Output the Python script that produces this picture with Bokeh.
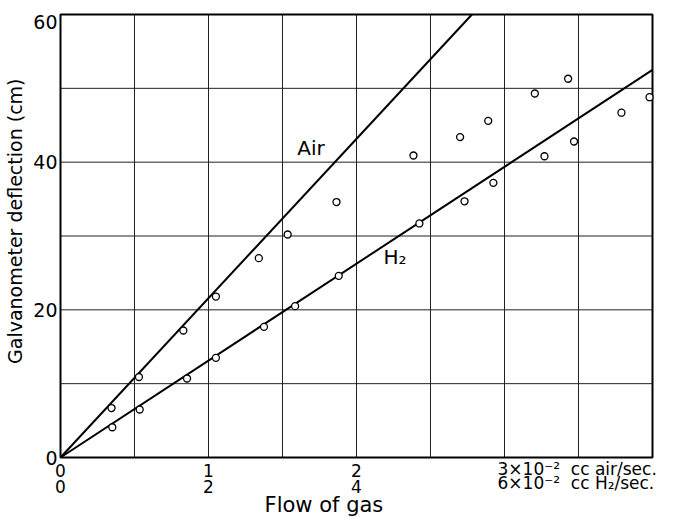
import math
from bokeh.plotting import figure
from bokeh.models import Range1d, Label
from bokeh.embed import file_html
from bokeh.resources import INLINE

# ---- data ----
# air: flow in 10^-2 cc air/sec (plotted on the H2 grid, 1 air unit = 2 grid units)
air_x = [0.345, 0.53, 0.83, 1.05, 1.34, 1.535, 1.865, 2.385, 2.70, 2.89, 3.205, 3.43]
air_y = [6.7, 10.9, 17.2, 21.8, 27.0, 30.2, 34.6, 40.9, 43.4, 45.6, 49.3, 51.3]
# H2: flow in 10^-2 cc H2/sec
h2_x = [0.70, 1.07, 1.71, 2.10, 2.75, 3.17, 3.76, 4.85, 5.46, 5.85, 6.54, 6.94, 7.58, 7.96]
h2_y = [4.1, 6.5, 10.7, 13.5, 17.7, 20.5, 24.6, 31.7, 34.7, 37.2, 40.8, 42.8, 46.7, 48.8]
# fitted lines
air_line_x = [0, 2.78]
air_line_y = [0, 60]
h2_line_x = [0, 8]
h2_line_y = [0, 52.5]

# axes / grid
x_max, y_max = 8, 60                       # H2 scale 0..8, deflection 0..60
x_grid = [1, 2, 3, 4, 5, 6, 7]
y_grid = [10, 20, 30, 40, 50]
air_ticks = [0, 1, 2]                      # upper tick row (air scale)
h2_ticks = [0, 2, 4]                       # lower tick row (H2 scale)
y_ticks = [0, 20, 40, 60]
air_unit_label = "3×10⁻²\u00a0\u00a0cc air/sec."
h2_unit_label = "6×10⁻²\u00a0\u00a0cc H₂/sec."
unit_tick = 6
x_title = "Flow of gas"
y_title = "Galvanometer deflection (cm)"
AIR_TO_GRID = 2.0                          # 1e-2 cc air/sec  <->  2e-2 cc H2/sec

FONT = "DejaVu Sans"
W, H = 674, 517
# frame placement (pixels): x=0 at 60, x=8 at 652; y=60 at 14, y=0 at 457
PX0, PX1, PY_TOP, PY0 = 60, 652, 14, 457
xs = (PX1 - PX0) / x_max
ys = (PY0 - PY_TOP) / y_max
xr = Range1d(-PX0 / xs, x_max + (W - PX1) / xs)
yr = Range1d(-(H - PY0) / ys, y_max + PY_TOP / ys)

p = figure(width=W, height=H, x_range=xr, y_range=yr,
           x_axis_type=None, y_axis_type=None, output_backend="svg", toolbar_location=None,
           min_border=0, min_border_left=0, min_border_right=0,
           min_border_top=0, min_border_bottom=0)
p.outline_line_color = None
p.background_fill_color = "white"
p.border_fill_color = "white"

# grid lines
p.segment(x0=x_grid, y0=[0] * len(x_grid), x1=x_grid, y1=[y_max] * len(x_grid),
          line_color="#222222", line_width=1)
p.segment(x0=[0] * len(y_grid), y0=y_grid, x1=[x_max] * len(y_grid), y1=y_grid,
          line_color="#222222", line_width=1)
# frame
p.quad(left=[0], right=[x_max], bottom=[0], top=[y_max], fill_color=None,
       line_color="black", line_width=2)

# fitted lines
p.line([v * AIR_TO_GRID for v in air_line_x], air_line_y, line_color="black", line_width=2)
p.line(h2_line_x, h2_line_y, line_color="black", line_width=2)

# points
p.scatter([v * AIR_TO_GRID for v in air_x], air_y, marker="circle", size=7,
          fill_color="white", line_color="black", line_width=1.3)
p.scatter(h2_x, h2_y, marker="circle", size=7,
          fill_color="white", line_color="black", line_width=1.3)

def lab(x, y, text, size, align="center", baseline="middle", angle=0.0, x_offset=0):
    p.add_layout(Label(x=x, y=y, text=text, text_align=align, text_baseline=baseline,
                       angle=angle, x_offset=x_offset, text_font=FONT,
                       text_font_size=size, text_color="black"))

# y tick labels
for t in y_ticks:
    lab(0, t, str(t), "19px", align="right",
        baseline="top" if t == y_max else "middle", x_offset=-3)
# y title
lab(-0.62, 32.0, y_title, "19px", angle=math.pi / 2)

# x tick labels: two scales
ROW1, ROW2 = -1.8, -3.9
for t in air_ticks:
    lab(t * AIR_TO_GRID, ROW1, str(t), "17px")
for t in h2_ticks:
    lab(t, ROW2, str(t), "17px")
lab(unit_tick, ROW1 + 0.2, air_unit_label, "17px", align="left", x_offset=-7)
lab(unit_tick, ROW2 + 0.5, h2_unit_label, "17px", align="left", x_offset=-7)
# x title
lab(3.56, -6.5, x_title, "21px")

# curve labels
lab(3.385, 41.9, "Air", "20px")
lab(4.365, 27.2, "H₂", "20px", align="left")

open("out.html", "w").write(file_html(p, INLINE))
